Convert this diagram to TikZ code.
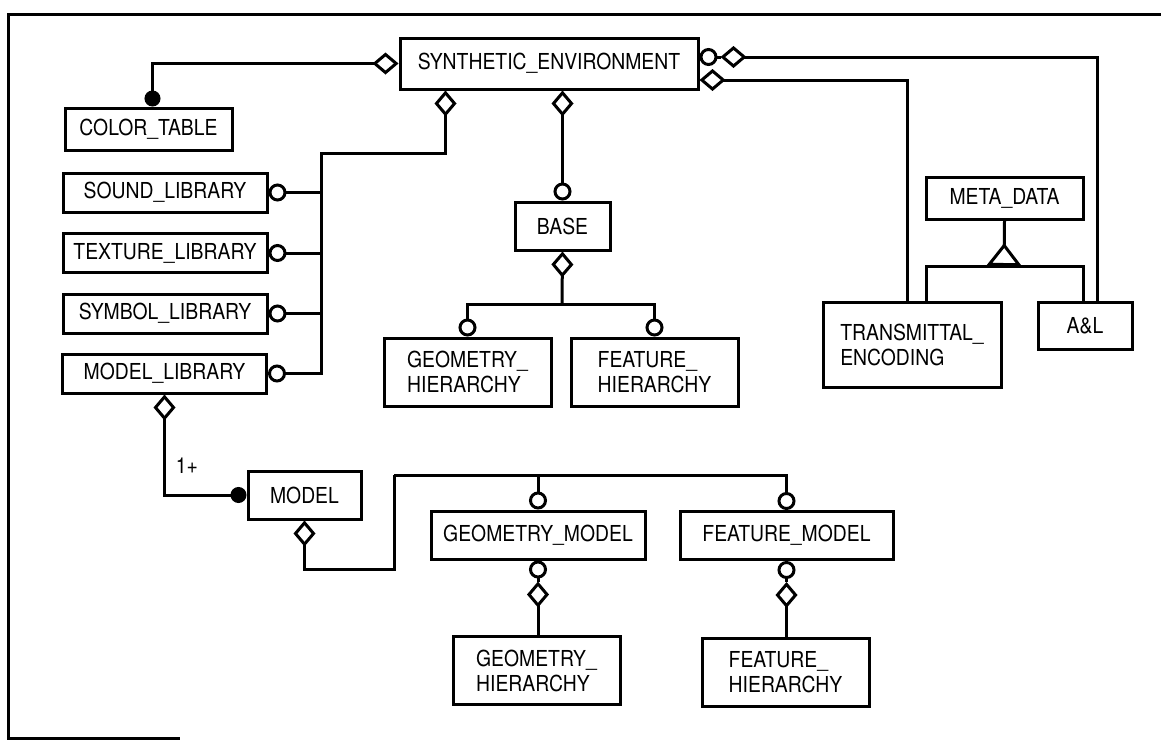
\documentclass[tikz,border=0pt]{standalone}
\usepackage{fontspec}
\setmainfont[FakeStretch=0.88]{TeX Gyre Heros}
\usetikzlibrary{arrows.meta, positioning, calc}

\begin{document}
\begin{tikzpicture}[
    x=0.5pt, y=-0.5pt,
    font=\fontsize{11}{12.5}\selectfont,
    entity/.style={
        rectangle,
        draw,
        line width=1.5pt,
        inner sep=2pt,
        align=center
    },
    libbox/.style={entity, minimum width=102pt, minimum height=19.5pt},
    hierbox/.style={entity, align=left, minimum width=83.5pt, minimum height=34pt},
    link/.style={line width=1.5pt},
    aggr/.tip={Diamond[open, length=13pt, width=11pt]},
    ring/.tip={Circle[open, length=9pt]},
    dot/.tip={Circle[length=8pt]},
    gen/.tip={Triangle[open, reversed, length=11.5pt, width=17.5pt]}
]
\useasboundingbox (0,0) rectangle (1161,740);

% frame
\draw[line width=1.5pt] (1161,14) -| (8,740);
\draw[line width=1.5pt] (8,738) -- (180,738);

% top level
\node[entity, minimum width=149pt, minimum height=25.5pt] (se) at (549,63.5) {SYNTHETIC\_ENVIRONMENT};
\node[entity, minimum width=83.5pt, minimum height=21pt] (color) at (148.5,129) {COLOR\_TABLE};

% libraries
\node[libbox] (sound) at (165,192.5) {SOUND\_LIBRARY};
\node[libbox] (texture) at (165,253) {TEXTURE\_LIBRARY};
\node[libbox] (symbol) at (165,313.5) {SYMBOL\_LIBRARY};
\node[libbox] (modellib) at (164.5,373.5) {MODEL\_LIBRARY};

% base
\node[entity, minimum width=47.5pt, minimum height=24pt] (base) at (562.5,226) {BASE};
\node[hierbox] (geohier) at (467.5,372) {GEOMETRY\_\\HIERARCHY};
\node[hierbox] (feathier) at (654.5,372) {FEATURE\_\\HIERARCHY};

% meta data
\node[entity, minimum width=78.5pt, minimum height=21pt] (meta) at (1004.5,198) {META\_DATA};
\node[entity, align=left, minimum width=89pt, minimum height=42.5pt] (transenc) at (912,344.5) {TRANSMITTAL\_\\ENCODING};
\node[entity, minimum width=47pt, minimum height=23.5pt] (al) at (1085,325.5) {A\&L};

% models
\node[entity, minimum width=56.5pt, minimum height=24pt] (model) at (304.5,495) {MODEL};
\node[entity, minimum width=107pt, minimum height=24pt] (geomodel) at (538,535) {GEOMETRY\_MODEL};
\node[entity, minimum width=106.5pt, minimum height=24pt] (featmodel) at (786.5,535.5) {FEATURE\_MODEL};
\node[hierbox] (geohier2) at (536.5,670.5) {GEOMETRY\_\\HIERARCHY};
\node[hierbox] (feathier2) at (785.5,672) {FEATURE\_\\HIERARCHY};

\node (mult) at (187,466) {1+};

\coordinate (libbus) at (321,153);
\coordinate (basebus) at (562,304);
\coordinate (metabus) at (1004,266);
\coordinate (mlow) at (394,569);
\coordinate (modelbus) at (394,475);
\coordinate (sering) at ([xshift=10.5pt, yshift=3.25pt]se.east);
\coordinate (gmring) at ([yshift=-10.5pt]geomodel.south);
\coordinate (fmring) at ([yshift=-10.5pt]featmodel.south);

% connectors
\draw[link, {aggr}-{dot}] (se.west) -| ([xshift=2pt]color.north);

\draw[link, {aggr}-{ring}] ([xshift=23.5pt]se.south west) |- (libbus) |- (modellib.east);
\foreach \lib in {sound, texture, symbol}
    \draw[link, -{ring}] (libbus |- \lib.east) -- (\lib.east);

\draw[link, {aggr}-{ring}] (base.north |- se.south) -- (base.north);
\draw[link, {aggr}-] (base.south) -- (basebus);
\draw[link, -{ring}] (basebus) -| (geohier.north);
\draw[link, -{ring}] (basebus) -| (feathier.north);

\draw[link, {ring}-] ([yshift=3.25pt]se.east) -- (sering);
\draw[link, {aggr}-] (sering) -| ([xshift=6pt]al.north);
\draw[link, {aggr}-] ([yshift=-8.25pt]se.east) -| ([xshift=-2.5pt]transenc.north);

\draw[link, -{gen}] (meta.south) -- (metabus);
\draw[link] ([xshift=7pt]transenc.north) |- (metabus) -| ([xshift=-1pt]al.north);

\draw[link, {aggr}-{dot}] (modellib.south) |- (model.west);

\draw[link, {aggr}-] (model.south) |- (mlow) -- (modelbus);
\draw[link, -{ring}] (modelbus) -| (geomodel.north);
\draw[link, -{ring}] (modelbus) -| (featmodel.north);

\draw[link, {ring}-] (geomodel.south) -- (gmring);
\draw[link, {aggr}-] (gmring) -- (gmring |- geohier2.north);
\draw[link, {ring}-] (featmodel.south) -- (fmring);
\draw[link, {aggr}-] (fmring) -- (fmring |- feathier2.north);

\end{tikzpicture}
\end{document}
